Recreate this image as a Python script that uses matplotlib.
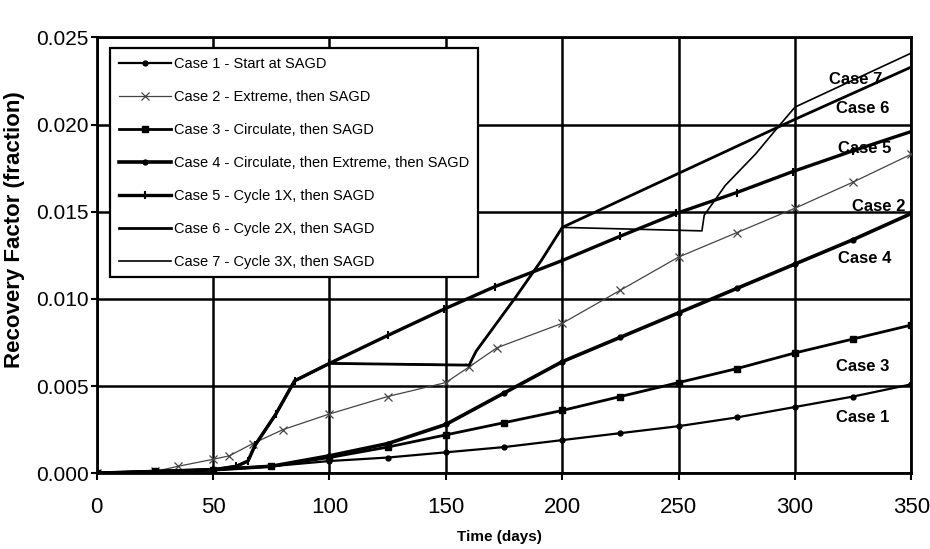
import matplotlib
matplotlib.use("Agg")
import matplotlib.pyplot as plt

plt.rcParams['font.family'] = ['Liberation Sans Narrow', 'Liberation Sans', 'DejaVu Sans']

# ---------------- data ----------------
t_std = [0, 25, 50, 75, 100, 125, 150, 175, 200, 225, 250, 275, 300, 325, 350]
case1_v = [0.0000, 0.0001, 0.0002, 0.0004, 0.0007, 0.0009, 0.0012, 0.0015,
           0.0019, 0.0023, 0.0027, 0.0032, 0.0038, 0.0044, 0.0051]
case3_v = [0.0000, 0.0001, 0.0002, 0.0004, 0.0009, 0.0015, 0.0022, 0.0029,
           0.0036, 0.0044, 0.0052, 0.0060, 0.0069, 0.0077, 0.0085]
case4_v = [0.0000, 0.0001, 0.0002, 0.0004, 0.0010, 0.0017, 0.0028, 0.0046,
           0.0064, 0.0078, 0.0092, 0.0106, 0.0120, 0.0134, 0.0149]

case2_t = [0, 25, 35, 50, 57, 67, 80, 100, 125, 150, 160, 172, 200, 225,
           250, 275, 300, 325, 350]
case2_v = [0.0000, 0.0001, 0.0004, 0.0008, 0.0010, 0.0017, 0.0025, 0.0034,
           0.0044, 0.0052, 0.0061, 0.0072, 0.0086, 0.0105, 0.0124, 0.0138,
           0.0152, 0.0167, 0.0183]

case5_t = [0, 50, 60, 65, 68, 77, 85, 100, 125, 149, 171, 200, 225, 249,
           275, 299, 325, 350]
case5_v = [0.0000, 0.0002, 0.0004, 0.0007, 0.0016, 0.0034, 0.0053, 0.0063,
           0.0079, 0.0094, 0.0107, 0.0122, 0.0136, 0.0149, 0.0161, 0.0173,
           0.0185, 0.0196]

case6_t = [0, 50, 60, 65, 68, 77, 85, 100, 160, 163, 180, 191, 200, 250,
           300, 350]
case6_v = [0.0000, 0.0002, 0.0004, 0.0007, 0.0016, 0.0034, 0.0053, 0.0063,
           0.0062, 0.0070, 0.0101, 0.0122, 0.0141, 0.0172, 0.0203, 0.0233]

case7_t = [0, 50, 60, 65, 68, 77, 85, 100, 160, 163, 180, 191, 200, 260,
           261, 270, 283, 293, 300, 350]
case7_v = [0.0000, 0.0002, 0.0004, 0.0007, 0.0016, 0.0034, 0.0053, 0.0063,
           0.0062, 0.0070, 0.0101, 0.0122, 0.0141, 0.0139, 0.0148, 0.0165,
           0.0183, 0.0199, 0.0210, 0.0241]

legend_labels = [
    "Case 1 - Start at SAGD",
    "Case 2 - Extreme, then SAGD",
    "Case 3 - Circulate, then SAGD",
    "Case 4 - Circulate, then Extreme, then SAGD",
    "Case 5 - Cycle 1X, then SAGD",
    "Case 6 - Cycle 2X, then SAGD",
    "Case 7 - Cycle 3X, then SAGD",
]
end_labels = ["Case 7", "Case 6", "Case 5", "Case 2", "Case 4", "Case 3", "Case 1"]
end_label_t = [326, 329, 330, 336, 330, 329, 329]
end_label_v = [0.0226, 0.0209, 0.0186, 0.0153, 0.0123, 0.0061, 0.0032]

x_ticks = [0, 50, 100, 150, 200, 250, 300, 350]
y_ticks = [0.000, 0.005, 0.010, 0.015, 0.020, 0.025]

# ---------------- figure ----------------
fig = plt.figure(figsize=(9.3, 5.49), dpi=100)
ax = fig.add_axes([0.104, 0.138, 0.876, 0.794])

ax.plot(t_std, case1_v, color='black', lw=1.6, marker='o', ms=3.5,
        label=legend_labels[0], zorder=3)
ax.plot(case2_t, case2_v, color='#444444', lw=0.9, marker='x', ms=6, mew=0.9,
        label=legend_labels[1], zorder=3)
ax.plot(t_std, case3_v, color='black', lw=2.0, marker='s', ms=4.5,
        label=legend_labels[2], zorder=3)
ax.plot(t_std, case4_v, color='black', lw=2.6, marker='o', ms=3.5,
        label=legend_labels[3], zorder=3)
ax.plot(case5_t, case5_v, color='black', lw=2.4, marker='|', ms=6, mew=1.5,
        label=legend_labels[4], zorder=3)
ax.plot(case6_t, case6_v, color='black', lw=2.0,
        label=legend_labels[5], zorder=3)
ax.plot(case7_t, case7_v, color='black', lw=1.2,
        label=legend_labels[6], zorder=3)

for lab, tx, ty in zip(end_labels, end_label_t, end_label_v):
    ax.text(tx, ty, lab, ha='center', va='center', fontsize=12,
            fontweight='bold', zorder=4)

ax.set_xlim(0, 350)
ax.set_ylim(0, 0.025)
ax.set_xticks(x_ticks)
ax.set_xticklabels([str(v) for v in x_ticks], fontsize=16)
ax.set_yticks(y_ticks)
ax.set_yticklabels([f"{v:.3f}" for v in y_ticks], fontsize=15)
ax.tick_params(axis='x', length=5, width=1.5, pad=12)
ax.tick_params(axis='y', length=4, width=1.5, pad=2)
ax.grid(True, color='black', lw=1.8)
ax.set_axisbelow(True)
for s in ax.spines.values():
    s.set_linewidth(2)

ax.set_ylabel("Recovery Factor (fraction)", fontsize=16, fontweight='bold')
ax.yaxis.set_label_coords(-0.088, 0.56)
ax.set_xlabel("Time (days)", fontsize=11, fontweight='bold')
ax.xaxis.set_label_coords(0.494, -0.13)

leg = ax.legend(loc='upper left', bbox_to_anchor=(0.016, 0.975), fontsize=10.5,
                frameon=True, fancybox=False, edgecolor='black',
                handlelength=3.6, labelspacing=1.3, borderpad=0.6,
                handletextpad=0.2, borderaxespad=0)
leg.get_frame().set_linewidth(1.6)
leg.get_frame().set_alpha(1)
leg.set_zorder(5)

fig.savefig("out.png", dpi=100, facecolor='white')
